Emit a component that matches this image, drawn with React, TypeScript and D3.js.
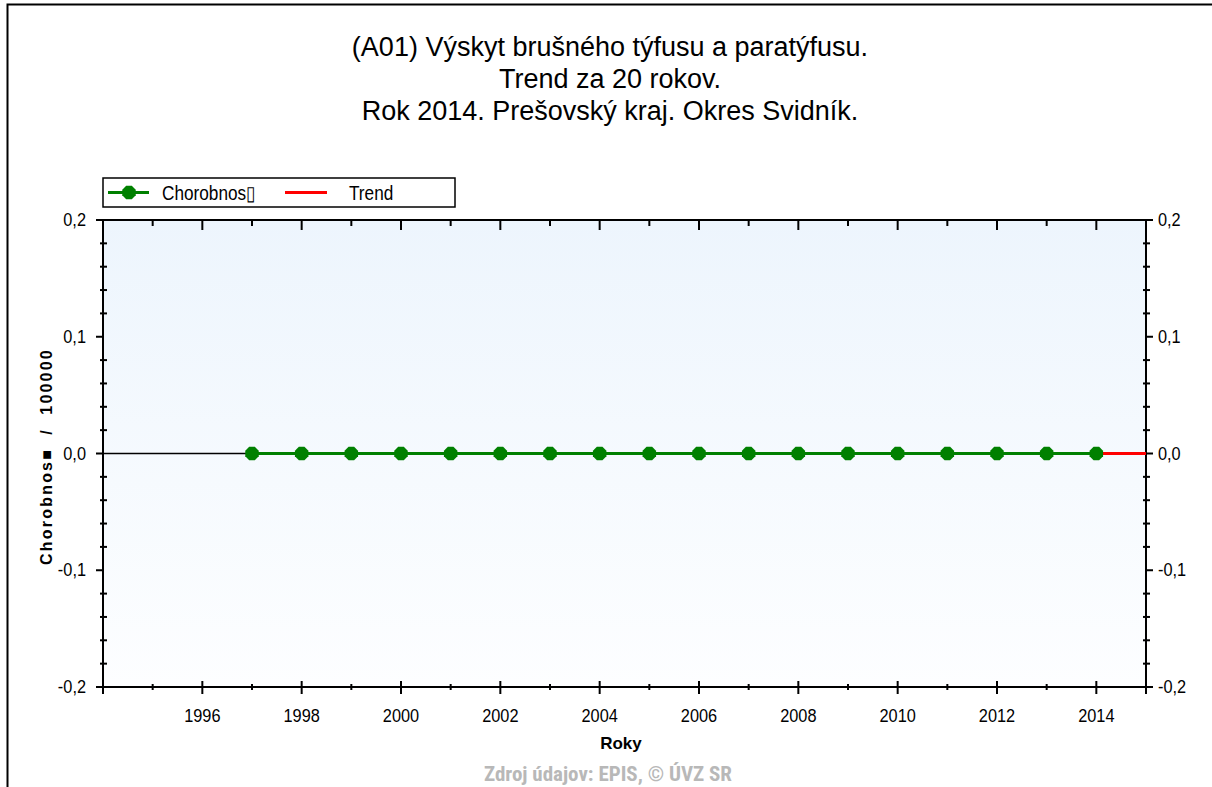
import { useEffect, useRef } from "react";
import * as d3 from "d3";

const W = 1212;
const H = 787;
const MARGIN = { top: 220, right: 66, bottom: 100, left: 103 };

const TITLE_LINES = [
  "(A01) Výskyt brušného týfusu a paratýfusu.",
  "Trend za 20 rokov.",
  "Rok 2014. Prešovský kraj. Okres Svidník.",
];

// Morbidity per 100 000, years 1997-2014
const YEARS = [1997, 1998, 1999, 2000, 2001, 2002, 2003, 2004, 2005, 2006, 2007, 2008, 2009, 2010, 2011, 2012, 2013, 2014];
const VALUES = [0, 0, 0, 0, 0, 0, 0, 0, 0, 0, 0, 0, 0, 0, 0, 0, 0, 0];
const TREND_YEARS = [2014, 2015];
const TREND_VALUES = [0, 0];

const X_DOMAIN: [number, number] = [1994, 2015];
const Y_DOMAIN: [number, number] = [-0.2, 0.2];
const Y_TICKS = [-0.2, -0.1, 0, 0.1, 0.2];

const FONT = "'Liberation Sans', Arial, sans-serif";
const NARROW = "'Liberation Sans Narrow', 'Roboto Condensed', Arial, sans-serif";
const SQUEEZE = 0.86; // horizontal squeeze for the small chart labels

export default function App() {
  const ref = useRef<SVGSVGElement | null>(null);

  useEffect(() => {
    if (!ref.current) return;
    const svg = d3.select(ref.current);
    svg.selectAll("*").remove();

    const innerW = W - MARGIN.left - MARGIN.right;
    const plotH = 687 - MARGIN.top;

    // outer frame
    svg
      .append("rect")
      .attr("x", 7.5)
      .attr("y", 4.5)
      .attr("width", W + 20)
      .attr("height", H + 20)
      .attr("fill", "#fff")
      .attr("stroke", "#000")
      .attr("stroke-width", 2);

    // titles
    svg
      .append("g")
      .selectAll("text")
      .data(TITLE_LINES)
      .join("text")
      .attr("x", 610)
      .attr("y", (_d, i) => 56 + i * 32)
      .attr("text-anchor", "middle")
      .attr("font-family", FONT)
      .attr("font-size", 27)
      .attr("fill", "#000")
      .text((d) => d);

    const x = d3.scaleLinear().domain(X_DOMAIN).range([0, innerW]);
    const y = d3.scaleLinear().domain(Y_DOMAIN).range([plotH, 0]);

    const defs = svg.append("defs");
    const grad = defs
      .append("linearGradient")
      .attr("id", "bg")
      .attr("x1", 0)
      .attr("y1", 0)
      .attr("x2", 0)
      .attr("y2", 1);
    grad.append("stop").attr("offset", "0%").attr("stop-color", "#edf5fd");
    grad.append("stop").attr("offset", "100%").attr("stop-color", "#fdfeff");

    const root = svg
      .append("g")
      .attr("transform", `translate(${MARGIN.left},${MARGIN.top})`);

    root
      .append("rect")
      .attr("width", innerW)
      .attr("height", plotH)
      .attr("fill", "url(#bg)");

    const axisStyle = (g: d3.Selection<SVGGElement, unknown, null, undefined>) => {
      g.selectAll("line").attr("stroke", "#000").attr("stroke-width", 2);
      g.selectAll("text")
        .attr("font-family", FONT)
        .attr("font-size", 19)
        .attr("fill", "#000");
    };

    const years = d3.range(X_DOMAIN[0], X_DOMAIN[1] + 1);
    const inner = years.filter((v) => v !== X_DOMAIN[0] && v !== X_DOMAIN[1]);
    const minorY = d3.range(-0.2, 0.2001, 0.02);
    const fmt = (d: number) => d3.format(".1f")(d).replace(".", ",").replace("−", "-");

    // bottom axis
    const bottom = root.append("g").attr("transform", `translate(0,${plotH})`);
    bottom.append("line").attr("x1", 0).attr("x2", innerW);
    bottom
      .selectAll("line.t")
      .data(inner)
      .join("line")
      .attr("class", "t")
      .attr("x1", (d) => x(d))
      .attr("x2", (d) => x(d))
      .attr("y1", (d) => (d % 2 === 0 ? -6 : -3))
      .attr("y2", (d) => (d % 2 === 0 ? 7 : 3));
    bottom
      .selectAll("text")
      .data(years.filter((v) => v % 2 === 0 && v > X_DOMAIN[0] && v < X_DOMAIN[1]))
      .join("text")
      .attr("transform", (d) => `translate(${x(d)},35) scale(${SQUEEZE},1)`)
      .attr("text-anchor", "middle")
      .text((d) => d);
    axisStyle(bottom);

    // top axis
    const top = root.append("g");
    top.append("line").attr("x1", 0).attr("x2", innerW);
    top
      .selectAll("line.t")
      .data(inner)
      .join("line")
      .attr("class", "t")
      .attr("x1", (d) => x(d))
      .attr("x2", (d) => x(d))
      .attr("y1", 0)
      .attr("y2", (d) => (d % 2 === 0 ? 10 : 6));
    axisStyle(top);

    // left and right axes
    [0, innerW].forEach((ax, side) => {
      const g = root.append("g").attr("transform", `translate(${ax},0)`);
      g.append("line").attr("y1", 0).attr("y2", plotH + 7);
      g.selectAll("line.m")
        .data(minorY.filter((v) => !Y_TICKS.some((t) => Math.abs(t - v) < 1e-6)))
        .join("line")
        .attr("class", "m")
        .attr("x1", -3)
        .attr("x2", 4)
        .attr("y1", (d) => y(d))
        .attr("y2", (d) => y(d));
      g.selectAll("line.M")
        .data(Y_TICKS)
        .join("line")
        .attr("class", "M")
        .attr("x1", side === 0 ? -7 : 0)
        .attr("x2", side === 0 ? 0 : 7)
        .attr("y1", (d) => y(d))
        .attr("y2", (d) => y(d));
      g.selectAll("text")
        .data(Y_TICKS)
        .join("text")
        .attr(
          "transform",
          (d) => `translate(${side === 0 ? -17 : 12},${y(d) + 6}) scale(${SQUEEZE},1)`
        )
        .attr("text-anchor", side === 0 ? "end" : "start")
        .text((d) => fmt(d));
      axisStyle(g);
    });

    // zero line
    root
      .append("line")
      .attr("x1", 0)
      .attr("x2", innerW)
      .attr("y1", y(0))
      .attr("y2", y(0))
      .attr("stroke", "#000")
      .attr("stroke-width", 1.5);

    const line = d3
      .line<[number, number]>()
      .x((d) => x(d[0]))
      .y((d) => y(d[1]));

    root
      .append("path")
      .attr("d", line(TREND_YEARS.map((yr, i) => [yr, TREND_VALUES[i]])) ?? "")
      .attr("fill", "none")
      .attr("stroke", "#ff0000")
      .attr("stroke-width", 3);

    root
      .append("path")
      .attr("d", line(YEARS.map((yr, i) => [yr, VALUES[i]])) ?? "")
      .attr("fill", "none")
      .attr("stroke", "#008000")
      .attr("stroke-width", 3);

    // octagonal markers
    const oct = d3.range(8).map((k) => {
      const a = Math.PI / 8 + (k * Math.PI) / 4;
      return [7.3 * Math.cos(a), 7.3 * Math.sin(a)] as [number, number];
    });
    const octPath = "M" + oct.map((p) => p.join(",")).join("L") + "Z";

    root
      .selectAll("path.pt")
      .data(YEARS.map((yr, i) => [yr, VALUES[i]]))
      .join("path")
      .attr("class", "pt")
      .attr("d", octPath)
      .attr("transform", (d) => `translate(${x(d[0])},${y(d[1])})`)
      .attr("fill", "#008000");

    // axis titles
    svg
      .append("text")
      .attr("transform", `translate(52,${MARGIN.top + y(0) + 3}) rotate(-90)`)
      .attr("text-anchor", "middle")
      .attr("font-family", FONT)
      .attr("font-weight", "bold")
      .attr("font-size", 16)
      .attr("letter-spacing", 2.2)
      .style("white-space", "pre")
      .text("Chorobnos\u25A0  /  100000");

    svg
      .append("text")
      .attr("x", 621)
      .attr("y", 749)
      .attr("text-anchor", "middle")
      .attr("font-family", FONT)
      .attr("font-weight", "bold")
      .attr("font-size", 17)
      .text("Roky");

    svg
      .append("text")
      .attr("x", 608)
      .attr("y", 781)
      .attr("text-anchor", "middle")
      .attr("font-family", NARROW)
      .attr("font-weight", "bold")
      .attr("font-size", 21)
      .attr("fill", "#b8b8b8")
      .text("Zdroj údajov: EPIS, © ÚVZ SR");

    // legend
    const leg = svg.append("g").attr("transform", "translate(103,178)");
    leg
      .append("rect")
      .attr("width", 352)
      .attr("height", 29)
      .attr("fill", "#fff")
      .attr("stroke", "#000")
      .attr("stroke-width", 1.5);
    leg
      .append("line")
      .attr("x1", 5)
      .attr("x2", 46)
      .attr("y1", 14.5)
      .attr("y2", 14.5)
      .attr("stroke", "#008000")
      .attr("stroke-width", 3);
    leg
      .append("path")
      .attr("d", octPath)
      .attr("transform", "translate(26,14.5)")
      .attr("fill", "#008000");
    leg
      .append("text")
      .attr("transform", `translate(59,21.5) scale(${SQUEEZE},1)`)
      .attr("font-family", FONT)
      .attr("font-size", 20)
      .text("Chorobnos\u25AF");
    leg
      .append("line")
      .attr("x1", 182)
      .attr("x2", 224)
      .attr("y1", 14.5)
      .attr("y2", 14.5)
      .attr("stroke", "#ff0000")
      .attr("stroke-width", 3);
    leg
      .append("text")
      .attr("transform", `translate(246,21.5) scale(${SQUEEZE},1)`)
      .attr("font-family", FONT)
      .attr("font-size", 20)
      .text("Trend");
  }, []);

  return (
    <svg
      ref={ref}
      width={W}
      height={H}
      style={{ position: "absolute", left: 0, top: 0, background: "#fff" }}
    />
  );
}
